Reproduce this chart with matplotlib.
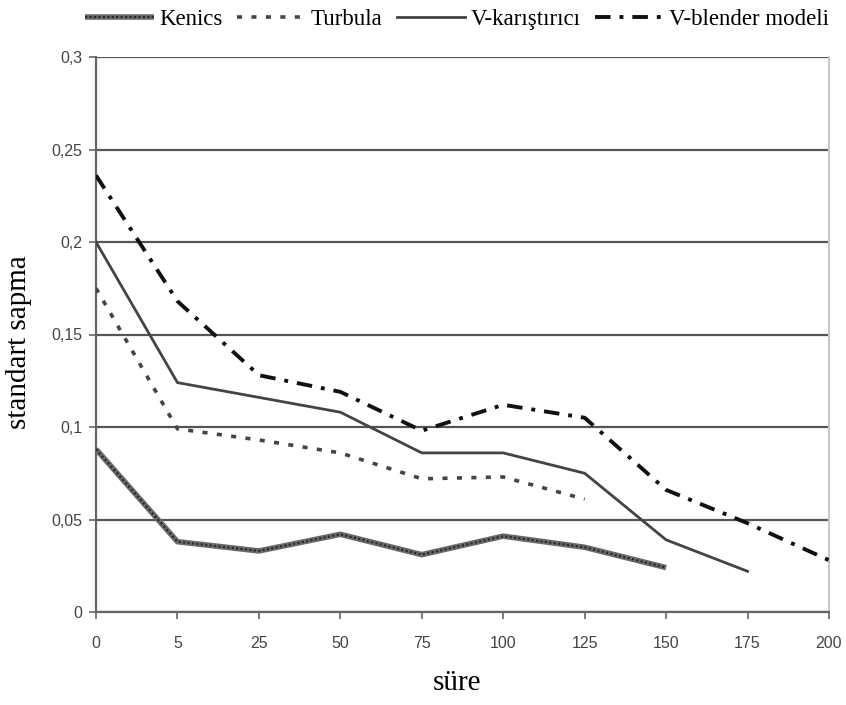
import matplotlib
matplotlib.use("Agg")
import matplotlib.pyplot as plt
from matplotlib.legend_handler import HandlerTuple

categories = ["0", "5", "25", "50", "75", "100", "125", "150", "175", "200"]
kenics = [0.088, 0.038, 0.033, 0.042, 0.031, 0.041, 0.035, 0.024]
turbula = [0.175, 0.099, 0.093, 0.086, 0.072, 0.073, 0.061]
v_karistirici = [0.200, 0.124, 0.116, 0.108, 0.086, 0.086, 0.075, 0.039, 0.022]
v_blender = [0.236, 0.168, 0.128, 0.119, 0.098, 0.112, 0.105, 0.066, 0.048, 0.028]
yticks = [0, 0.05, 0.1, 0.15, 0.2, 0.25, 0.3]
ytick_labels = ["0", "0,05", "0,1", "0,15", "0,2", "0,25", "0,3"]

fig = plt.figure(figsize=(8.46, 7.05), dpi=100)
ax = fig.add_axes([96/846, 93/705, (829-96)/846, (612-57)/705])

xs = list(range(len(categories)))

k1, = ax.plot(xs[:len(kenics)], kenics, color="#6a6a6a", lw=4.0, solid_capstyle="butt", zorder=3)
k2, = ax.plot(xs[:len(kenics)], kenics, color="#2a2a2a", lw=1.6, linestyle=(0, (1, 1)), zorder=4)
t, = ax.plot(xs[:len(turbula)], turbula, color="#444444", lw=2.6, linestyle=(0, (1.4, 2.6)), zorder=3)
v, = ax.plot(xs[:len(v_karistirici)], v_karistirici, color="#444444", lw=2.0, zorder=3)
b, = ax.plot(xs[:len(v_blender)], v_blender, color="#111111", lw=2.8, linestyle=(0, (4, 2.3, 1, 2.3)), zorder=3)

ax.set_xlim(0, len(categories) - 1)
ax.set_ylim(0, 0.3)
ax.set_xticks(xs)
ax.set_xticklabels(categories)
ax.set_yticks(yticks)
ax.set_yticklabels(ytick_labels)

ax.yaxis.grid(True, color="#555555", lw=1.6)
ax.set_axisbelow(True)
ax.spines["top"].set_visible(False)
ax.spines["right"].set_color("#c8c8c8")
ax.spines["right"].set_linewidth(1.5)
for s in ["left", "bottom"]:
    ax.spines[s].set_color("#666666")
    ax.spines[s].set_linewidth(1.6)
ax.tick_params(axis="both", colors="#666666", length=5, width=1.2,
               labelsize=11.5, labelcolor="#444444")
ax.tick_params(axis="x", pad=12)
ax.tick_params(axis="y", pad=5)
for lab in ax.get_xticklabels() + ax.get_yticklabels():
    lab.set_family("Liberation Sans")

ax.set_ylabel("standart sapma", family="Liberation Serif", fontsize=21)
ax.yaxis.set_label_coords((32 - 96) / 733, (612 - 342) / 555)
ax.set_xlabel("süre", family="Liberation Serif", fontsize=21)
ax.xaxis.set_label_coords((457 - 96) / 733, (612 - 670) / 555)

fig.legend([(k1, k2), t, v, b], ["Kenics", "Turbula", "V-karıştırıcı", "V-blender modeli"],
           handler_map={tuple: HandlerTuple(ndivide=1, pad=0)},
           loc="upper center", bbox_to_anchor=(457/846, 1.017), ncol=4, frameon=False,
           prop={"family": "Liberation Serif", "size": 16.5},
           handlelength=3.0, handletextpad=0.25, columnspacing=0.6)

fig.savefig("out.png", dpi=100, facecolor="white")
